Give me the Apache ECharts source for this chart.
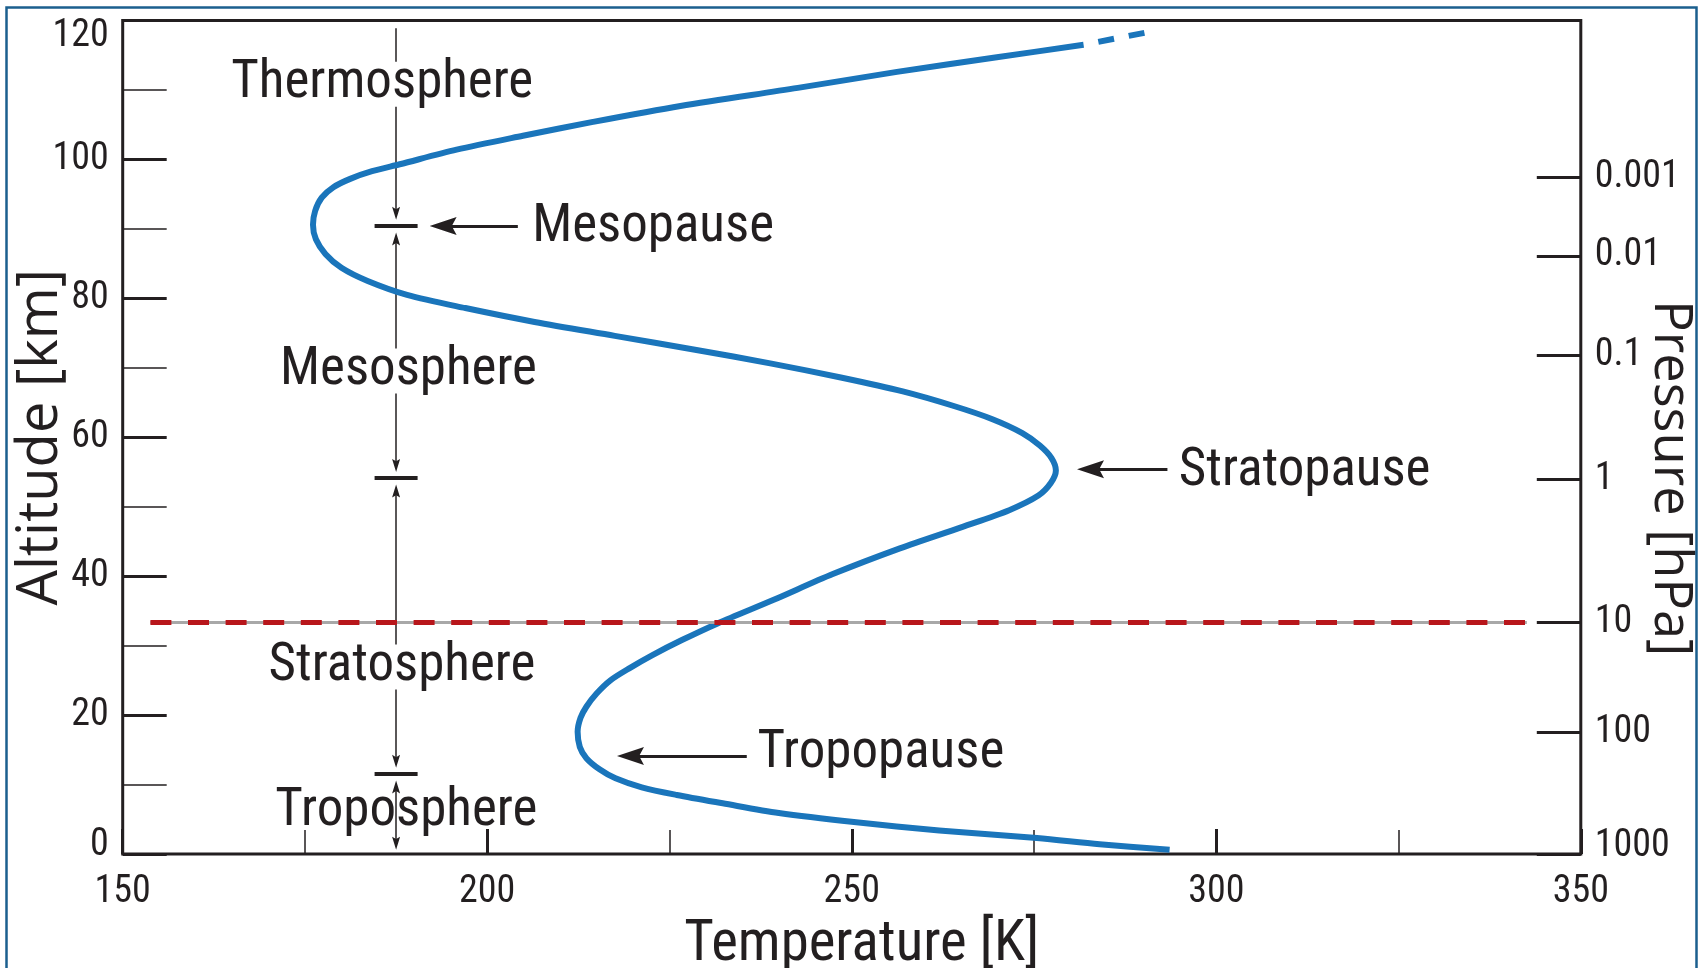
<!DOCTYPE html>
<html>
<head>
<meta charset="utf-8">
<title>Temperature profile of the atmosphere</title>
<script src="https://cdn.jsdelivr.net/npm/echarts@6/dist/echarts.min.js"></script>
<style>
  html, body { margin: 0; padding: 0; background: #fff; }
  #chart { width: 1703px; height: 968px; }
</style>
</head>
<body>
<div id="chart"></div>
<script>
// Mean temperature profile, listed from the ground upward.
const temperatureK = [
  293.6, 284.0, 275.4, 262.0, 250.3, 240.0, 232.3, 226.0, 221.2, 217.6,
  215.4, 213.6, 212.7, 212.4, 212.8, 213.6, 215.0, 216.9, 219.6, 222.6,
  226.7, 231.6, 239.3, 247.4, 256.6, 265.2, 271.6, 275.6, 277.3, 278.0,
  277.4, 275.8, 273.4, 269.3, 264.0, 257.0, 248.5, 239.0, 228.5, 217.5,
  206.5, 197.0, 189.0, 183.6, 180.0, 177.8, 176.5, 176.1, 176.4, 177.3,
  178.9, 181.2, 184.2, 188.0, 195.8, 204.9, 214.5, 226.5, 242.6, 256.2,
  269.9, 281.8
];
const altitudeKm = [
  0.6, 1.4, 2.3, 3.4, 4.6, 5.9, 7.3, 8.5, 9.6, 10.9,
  12.2, 13.8, 15.4, 17.6, 19.6, 21.2, 23.1, 25.0, 26.8, 28.6,
  30.8, 33.2, 36.6, 40.3, 44.0, 47.1, 49.5, 51.6, 53.4, 55.2,
  57.0, 58.8, 60.6, 62.6, 64.5, 66.6, 68.6, 70.6, 72.6, 74.6,
  76.6, 78.6, 80.5, 82.5, 84.4, 86.4, 88.5, 90.6, 92.6, 94.5,
  96.0, 97.2, 98.3, 99.3, 101.4, 103.4, 105.4, 107.7, 110.3, 112.6,
  114.7, 116.5
];
// Less certain continuation at the top of the thermosphere.
const extensionTemperatureK = [281.8, 290.5];
const extensionAltitudeKm = [116.5, 118.3];

// Pressure scale (hPa) and the altitude each level sits at.
const pressureLabels = ['0.001', '0.01', '0.1', '1', '10', '100', '1000'];
const pressureAltitudeKm = [97.4, 86.1, 71.8, 53.9, 33.3, 17.5, 0];

// Layers and the pauses that separate them.
const layerNames = ['Thermosphere', 'Mesosphere', 'Stratosphere', 'Troposphere'];
const pauseNames = ['Mesopause', 'Stratopause', 'Tropopause'];
const pauseAltitudeKm = [90.4, 54.1, 11.5];

// ---- layout of the annotations (temperature, altitude) ----
const layerLabelAt = [[185.6, 111.7], [189.2, 70.4], [188.3, 27.8], [188.9, 7.0]];
const layerLabelMasked = [true, true, true, false];
const pauseArrowAt = [
  { tip: [192.1, 90.4], tail: 204.2, text: [206.1, 91.0] },
  { tip: [280.9, 55.4], tail: 293.3, text: [294.8, 55.9] },
  { tip: [217.8, 14.1], tail: 235.6, text: [237.0, 15.3] }
];
const columnT = 187.5;          // temperature at which the layer column is drawn
const columnTopKm = 118.9;
const columnBottomTipKm = 0.6;
const barHalfWidthK = 2.95;
const tipGapKm = 0.9;
const smallArrowHalfKm = 0.94;  // half length of the column arrowheads
const bigArrowHalfK = 1.85;     // half length of the pause arrowheads
const levelLineSpanK = [153.8, 342.6];
const levelLineIndex = 4;       // the 10 hPa level

const INK = '#231f20';
const BLUE = '#1a75bb';
const RED = '#b8161b';
const ARROW = 'path://M10,0L20,28L10,23L0,28Z';

// Pick the narrowest installed sans and size text by its measured width.
const measureCtx = document.createElement('canvas').getContext('2d');
function textWidth(family, size, text) {
  measureCtx.font = size + 'px ' + family;
  return measureCtx.measureText(text).width;
}
function hasFont(name) {
  const probe = 'Thermosphere 0123456789';
  return ['monospace', 'serif'].some(fb =>
    textWidth('"' + name + '", ' + fb, 40, probe) !== textWidth(fb, 40, probe));
}
const fontChoices = ['Liberation Sans Narrow', 'Noto Sans Condensed', 'Roboto Condensed', 'Lato', 'Open Sans'];
const FONT_NAME = fontChoices.find(hasFont) || 'Open Sans';
const TXT = '"' + FONT_NAME + '", "Open Sans", sans-serif';
// Rotated titles keep normal letter widths.
const WIDE_TXT = '"Open Sans", sans-serif';
const sizeFor = (family, text, width) => +(width / textWidth(family, 100, text) * 100).toFixed(1);

const tickSize = sizeFor(TXT, '1000', 75);
const noteSize = sizeFor(TXT, 'Thermosphere', 302);
const xTitleSize = sizeFor(TXT, 'Temperature [K]', 355);
const leftTitleSize = sizeFor(WIDE_TXT, 'Altitude [km]', 337);
const rightTitleSize = sizeFor(WIDE_TXT, 'Pressure [hPa]', 356);

// Grid edges (pixels) and where the reference texts are centred.
const GRID = { left: 122.7, right: 122.2, top: 20.5, bottom: 114 };
const axisBottomY = 968 - GRID.bottom;
const axisRightX = 1703 - GRID.right;

const profile = temperatureK.map((t, i) => [t, altitudeKm[i]]);
const extension = extensionTemperatureK.map((t, i) => [t, extensionAltitudeKm[i]]);

// Column of double-headed arrows between the pauses.
const stops = [columnTopKm].concat(pauseAltitudeKm, [columnBottomTipKm]);
const columnSegments = [];
for (let i = 0; i < stops.length - 1; i++) {
  const from = i === 0 ? stops[0] : stops[i] - tipGapKm - smallArrowHalfKm;
  const to = i === stops.length - 2 ? stops[i + 1] + smallArrowHalfKm
                                    : stops[i + 1] + tipGapKm + smallArrowHalfKm;
  columnSegments.push({
    coords: [[columnT, from], [columnT, to]],
    symbol: [i === 0 ? 'none' : ARROW, ARROW]
  });
}
const pauseBars = pauseAltitudeKm.map(a => ({
  coords: [[columnT - barHalfWidthK, a], [columnT + barHalfWidthK, a]]
}));
const pauseArrows = pauseArrowAt.map(p => ({
  coords: [[p.tail, p.tip[1]], [p.tip[0] + bigArrowHalfK, p.tip[1]]]
}));
const levelAlt = pressureAltitudeKm[levelLineIndex];
const levelLine = [{ coords: [[levelLineSpanK[0], levelAlt], [levelLineSpanK[1], levelAlt]] }];

const layerLabelData = layerNames.map((n, i) => ({
  name: n,
  value: layerLabelAt[i],
  label: layerLabelMasked[i]
    ? { backgroundColor: '#fff', padding: [2, 4], lineHeight: Math.round(noteSize * 0.78) }
    : { backgroundColor: 'transparent' }
}));
const pauseLabelData = pauseNames.map((n, i) => ({ name: n, value: pauseArrowAt[i].text }));

const labelFont = { color: INK, fontFamily: TXT, fontSize: tickSize };
const noteFont = { color: INK, fontFamily: TXT, fontSize: noteSize, offset: [0, 6] };

const chart = echarts.init(document.getElementById('chart'), null, { renderer: 'canvas' });
chart.setOption({
  animation: false,
  backgroundColor: '#fff',
  grid: {
    left: GRID.left, right: GRID.right, top: GRID.top, bottom: GRID.bottom,
    outerBoundsMode: 'none', containLabel: false,
    show: true, borderColor: INK, borderWidth: 3, backgroundColor: 'transparent'
  },
  xAxis: {
    type: 'value', min: 150, max: 350, interval: 50,
    axisLine: { show: false },
    axisTick: { inside: true, length: 25, lineStyle: { color: INK, width: 3 } },
    minorTick: { show: true, splitNumber: 2, length: 24, lineStyle: { color: INK, width: 1.5 } },
    splitLine: { show: false },
    minorSplitLine: { show: false },
    axisLabel: Object.assign({ margin: 892 - axisBottomY - tickSize / 2 }, labelFont),
    name: 'Temperature [K]', nameLocation: 'middle', nameMoveOverlap: false,
    nameGap: 946 - axisBottomY - xTitleSize / 2,
    nameTextStyle: { color: INK, fontFamily: TXT, fontSize: xTitleSize, padding: [0, 0, 0, 20] }
  },
  yAxis: [
    {
      type: 'value', position: 'left', min: 0, max: 120, interval: 20,
      axisLine: { show: false },
      axisTick: { inside: true, length: 44, lineStyle: { color: INK, width: 3 } },
      minorTick: { show: true, splitNumber: 2, length: 44, lineStyle: { color: INK, width: 1.5 } },
      splitLine: { show: false },
      minorSplitLine: { show: false },
      axisLabel: Object.assign({
        margin: 14,
        formatter: v => v === 120 ? '{drop|' + v + '}' : v === 0 ? '{lift|' + v + '}' : String(v),
        rich: {
          drop: Object.assign({ padding: [31, 0, 0, 0] }, labelFont),
          lift: Object.assign({ padding: [0, 0, 18, 0] }, labelFont)
        }
      }, labelFont),
      name: 'Altitude [km]', nameLocation: 'middle', nameRotate: 90, nameMoveOverlap: false,
      nameGap: GRID.left - 41 - leftTitleSize / 2,
      nameTextStyle: { color: INK, fontFamily: WIDE_TXT, fontSize: leftTitleSize }
    },
    {
      type: 'value', position: 'right', min: 0, max: 120,
      axisLine: { show: false },
      axisTick: {
        show: true, inside: true, length: 44, customValues: pressureAltitudeKm,
        lineStyle: { color: INK, width: 3 }
      },
      splitLine: { show: false },
      axisLabel: Object.assign({
        margin: 14,
        customValues: pressureAltitudeKm,
        formatter: v => {
          let best = 0;
          pressureAltitudeKm.forEach((a, i) => {
            if (Math.abs(a - v) < Math.abs(pressureAltitudeKm[best] - v)) best = i;
          });
          const s = pressureLabels[best];
          return v === 0 ? '{lift|' + s + '}' : s;
        },
        rich: { lift: Object.assign({ padding: [0, 0, 16, 0] }, labelFont) }
      }, labelFont),
      name: 'Pressure [hPa]', nameLocation: 'middle', nameRotate: -90, nameMoveOverlap: false,
      nameGap: 1670 - axisRightX - rightTitleSize / 2,
      nameTextStyle: { color: INK, fontFamily: WIDE_TXT, fontSize: rightTitleSize, padding: [0, 0, 0, 82] }
    }
  ],
  graphic: [{
    type: 'rect', silent: true, z: 100,
    shape: { x: 6.5, y: 7.5, width: 1690, height: 990 },
    style: { fill: 'none', stroke: '#1b5f8e', lineWidth: 2.5 }
  }],
  series: [
    {
      type: 'lines', coordinateSystem: 'cartesian2d', z: 3,
      data: columnSegments,
      symbol: [ARROW, ARROW], symbolSize: [[8, 13], [8, 13]],
      lineStyle: { color: INK, width: 1.5, opacity: 1 }
    },
    {
      type: 'lines', coordinateSystem: 'cartesian2d', z: 3,
      data: pauseBars, symbol: 'none',
      lineStyle: { color: INK, width: 4, opacity: 1, cap: 'butt' }
    },
    {
      type: 'lines', coordinateSystem: 'cartesian2d', z: 3,
      data: pauseArrows,
      symbol: ['none', ARROW], symbolSize: [[1, 1], [18, 27]],
      lineStyle: { color: INK, width: 3, opacity: 1 }
    },
    {
      type: 'line', name: 'Temperature', data: profile, z: 5,
      symbol: 'none', smooth: 0.3,
      lineStyle: { color: BLUE, width: 6, cap: 'butt', join: 'round' }
    },
    {
      type: 'line', name: 'Extrapolated', data: extension, z: 5,
      symbol: 'none',
      lineStyle: { color: BLUE, width: 6, type: [16, 15], dashOffset: 16, cap: 'butt' }
    },
    {
      type: 'lines', coordinateSystem: 'cartesian2d', z: 6,
      data: levelLine, symbol: 'none',
      lineStyle: { color: '#a8a8a8', width: 3, opacity: 1 }
    },
    {
      type: 'lines', coordinateSystem: 'cartesian2d', z: 7,
      data: levelLine, symbol: 'none',
      lineStyle: { color: RED, width: 5, opacity: 1, type: [21, 16.6], cap: 'butt' }
    },
    {
      type: 'scatter', z: 8, data: layerLabelData,
      symbolSize: 1, itemStyle: { color: 'transparent', opacity: 1 },
      label: Object.assign({ show: true, position: 'inside', formatter: '{b}' }, noteFont)
    },
    {
      type: 'scatter', z: 8, data: pauseLabelData,
      symbolSize: 1, itemStyle: { color: 'transparent', opacity: 1 },
      label: Object.assign({ show: true, position: 'right', distance: 0, formatter: '{b}' }, noteFont)
    }
  ]
});
</script>
</body>
</html>
